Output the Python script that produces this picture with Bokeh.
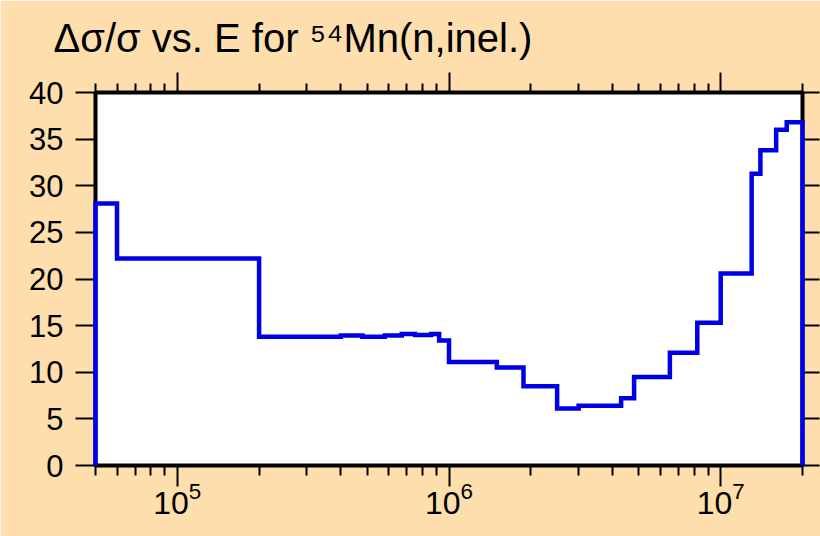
from bokeh.plotting import figure
from bokeh.models import (Range1d, LogAxis, LinearAxis, FixedTicker,
                          CustomJSTickFormatter)
from bokeh.embed import file_html
from bokeh.resources import INLINE

# Bin edges (eV) and relative uncertainty values (%)
edges = [5e4, 6e4, 2e5, 4e5, 4.8e5, 5.8e5, 6.7e5, 7.5e5, 8.6e5, 9.2e5, 1e6,
         1.5e6, 1.88e6, 2.5e6, 3e6, 4.3e6, 4.8e6, 6.5e6, 8.2e6, 1e7,
         1.3e7, 1.4e7, 1.6e7, 1.75e7, 2e7]
values = [28.1, 22.2, 13.8, 13.95, 13.8, 13.95, 14.1, 14.0, 14.1, 13.4,
          11.1, 10.5, 8.5, 6.1, 6.4, 7.2, 9.5, 12.1, 15.3, 20.6,
          31.3, 33.8, 36.0, 36.8]

x_major = [1e5, 1e6, 1e7]
x_minor = [5e4, 6e4, 7e4, 8e4, 9e4,
           2e5, 3e5, 4e5, 5e5, 6e5, 7e5, 8e5, 9e5,
           2e6, 3e6, 4e6, 5e6, 6e6, 7e6, 8e6, 9e6, 2e7]
y_ticks = [0, 5, 10, 15, 20, 25, 30, 35, 40]

title_text = "\u0394\u03c3/\u03c3 vs. E for \u2075\u2074Mn(n,inel.)"

BG = "#FDDEAC"
FONT = "Liberation Sans"

p = figure(width=820, height=536, x_axis_type="log",
           x_range=Range1d(5e4, 2e7), y_range=Range1d(0, 40),
           output_backend="svg", toolbar_location=None,
           min_border_left=95, min_border_right=18,
           min_border_top=92, min_border_bottom=71,
           background_fill_color="white", border_fill_color=BG,
           outline_line_color="black", outline_line_width=4)
p.grid.visible = False

p.title.text = title_text
p.title.text_font = FONT
p.title.text_font_size = "40px"
p.title.text_font_style = "normal"
p.title.text_color = "black"
p.title.align = "left"
p.title.offset = -42
p.title.standoff = 26

# step outline built from edges/values
xs = [edges[0]]
ys = [0]
for i, v in enumerate(values):
    xs += [edges[i], edges[i + 1]]
    ys += [v, v]
xs.append(edges[-1])
ys.append(0)
p.line(xs, ys, line_color="#0000E6", line_width=4.5, line_join="miter",
       level="overlay")

xt = FixedTicker(ticks=x_major, minor_ticks=x_minor)
yt = FixedTicker(ticks=y_ticks, minor_ticks=[])
empty = CustomJSTickFormatter(code="return ''")

def style(ax, major_out, minor_out):
    ax.axis_line_color = "black"
    ax.axis_line_width = 3
    ax.major_tick_line_color = "black"
    ax.minor_tick_line_color = "black"
    ax.major_tick_line_width = 2
    ax.minor_tick_line_width = 2
    ax.major_tick_in = 0
    ax.minor_tick_in = 0
    ax.major_tick_out = major_out
    ax.minor_tick_out = minor_out
    ax.major_label_text_font = FONT
    ax.major_label_text_color = "black"
    ax.major_label_text_font_size = "31px"

bx = p.xaxis[0]
bx.ticker = xt
style(bx, 21, 10)
bx.major_label_text_font_size = "32px"
bx.major_label_standoff = -5

ly = p.yaxis[0]
ly.ticker = yt
style(ly, 20, 0)
ly.major_label_standoff = 12

tx = LogAxis(ticker=xt, formatter=empty)
style(tx, 20, 9)
tx.major_label_text_font_size = "1px"
tx.major_label_standoff = 0
p.add_layout(tx, "above")

ry = LinearAxis(ticker=yt, formatter=empty)
style(ry, 17, 0)
ry.major_label_text_font_size = "1px"
ry.major_label_standoff = 0
p.add_layout(ry, "right")

open("out.html", "w").write(file_html(p, INLINE))
